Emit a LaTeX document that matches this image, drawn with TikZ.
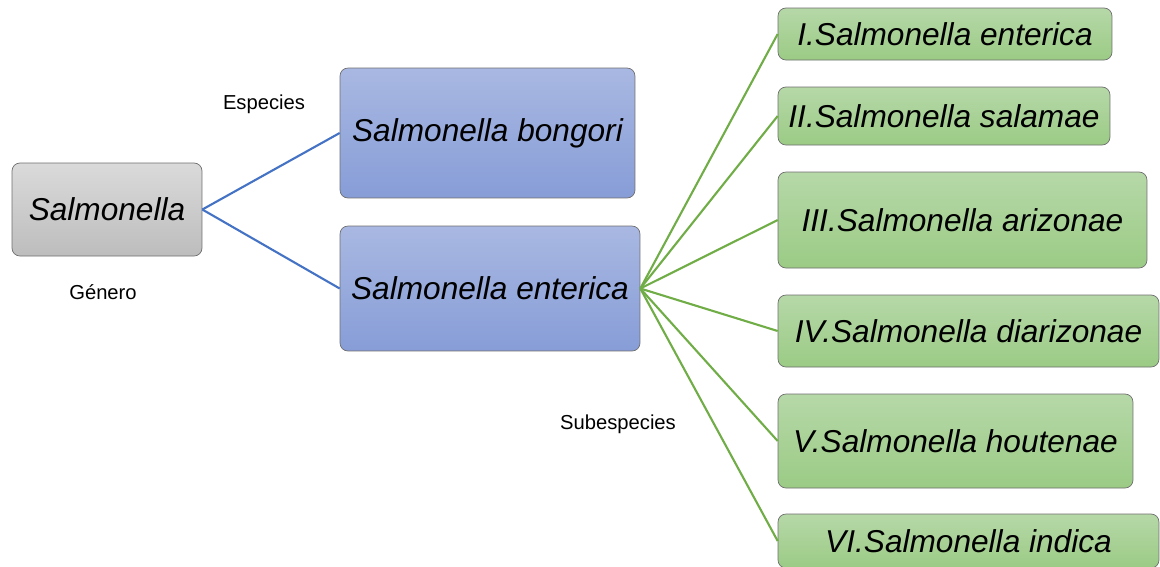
\documentclass[tikz,border=0pt]{standalone}
\usepackage{fontspec}
\setmainfont{Liberation Sans}

\definecolor{grisTop}{HTML}{DADADA}
\definecolor{grisBot}{HTML}{BDBDBD}
\definecolor{azulTop}{HTML}{A9B8E2}
\definecolor{azulBot}{HTML}{879DD7}
\definecolor{verdeTop}{HTML}{B6D8A8}
\definecolor{verdeBot}{HTML}{9BCB85}
\definecolor{borde}{HTML}{6E6E6E}
\definecolor{lineaAzul}{HTML}{4472C4}
\definecolor{lineaVerde}{HTML}{70AD47}

\begin{document}
\begin{tikzpicture}[x=0.02cm,y=-0.02cm,
	caja/.style={draw=borde,rounded corners=4.5pt,inner sep=0pt,
		font=\itshape\fontsize{18}{22}\selectfont},
	genbox/.style={caja,top color=grisTop,bottom color=grisBot},
	spbox/.style={caja,top color=azulTop,bottom color=azulBot},
	subbox/.style={caja,top color=verdeTop,bottom color=verdeBot},
	lab/.style={font=\fontsize{11.5}{14}\selectfont}]
	\useasboundingbox (0,0) rectangle (1160,566);
	
	\node[genbox,minimum width=3.8cm,minimum height=1.86cm] (g) at (107,209.5) {Salmonella};
	\node[spbox,minimum width=5.9cm,minimum height=2.6cm] (e1) at (487.5,133) {Salmonella bongori};
	\node[spbox,minimum width=6cm,minimum height=2.5cm] (e2) at (490,288.5) {Salmonella enterica};
	
	\node[subbox,minimum width=6.68cm,minimum height=1.04cm] (s1) at (945,34) {I.Salmonella enterica};
	\node[subbox,minimum width=6.64cm,minimum height=1.16cm] (s2) at (944,116) {II.Salmonella salamae};
	\node[subbox,minimum width=7.38cm,minimum height=1.92cm] (s3) at (962.5,220) {III.Salmonella arizonae};
	\node[subbox,minimum width=7.62cm,minimum height=1.44cm] (s4) at (968.5,331) {IV.Salmonella diarizonae};
	\node[subbox,minimum width=7.1cm,minimum height=1.88cm] (s5) at (955.5,441) {V.Salmonella houtenae};
	\node[subbox,minimum width=7.62cm,minimum height=1.08cm] (s6) at (968.5,541) {VI.Salmonella indica};
	
	\node[lab] (lesp) at (264,104) {Especies};
	\node[lab] (lgen) at (103,292) {Género};
	\node[lab] (lsub) at (618,424) {Subespecies};
	
	\draw[lineaAzul,line width=1.2pt] (g.east) edge (e1.west);
	\draw[lineaAzul,line width=1.2pt] (g.east) edge (e2.west);
	\foreach \s in {s1,s2,s3,s4,s5,s6}
		\draw[lineaVerde,line width=1.2pt] (e2.east) -- (\s.west);
\end{tikzpicture}
\end{document}
